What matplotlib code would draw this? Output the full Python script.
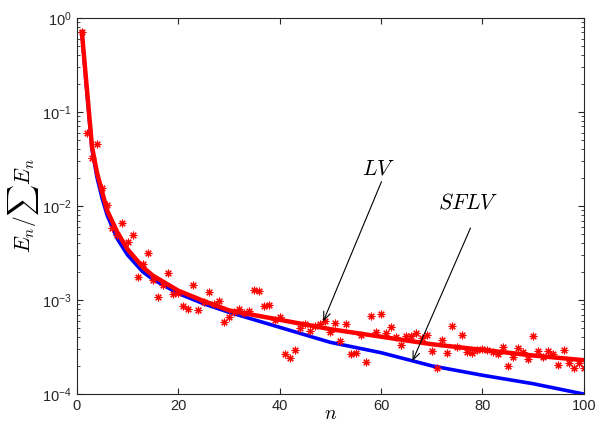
import matplotlib
matplotlib.use('Agg')
import matplotlib.pyplot as plt
import numpy as np

plt.rcParams['font.family'] = 'Liberation Sans'
plt.rcParams['mathtext.fontset'] = 'cm'

# line values, read at selected n (log10 of normalized energy)
line_n = [1, 2, 3, 4, 5, 6, 8, 10, 13, 15, 20, 25, 30, 40, 50, 60, 70, 80, 90, 100]
lv_log = [-0.15, -0.76, -1.37, -1.65, -1.85, -2.05, -2.28, -2.46, -2.65, -2.74,
          -2.90, -3.01, -3.11, -3.21, -3.31, -3.39, -3.47, -3.53, -3.59, -3.64]
sflv_log = [-0.15, -0.80, -1.40, -1.70, -1.92, -2.10, -2.35, -2.52, -2.70, -2.78,
            -2.93, -3.04, -3.13, -3.29, -3.45, -3.56, -3.70, -3.80, -3.89, -4.00]

# scatter points, one per n (log10)
pts_log = [-0.15, -1.22, -1.49, -1.34, -1.81, -1.99, -2.23, -2.31, -2.18, -2.38,
           -2.31, -2.75, -2.62, -2.50, -2.79, -2.97, -2.84, -2.71, -2.94, -2.93,
           -3.06, -3.10, -2.84, -3.11, -3.02, -2.91, -3.04, -3.01, -3.23, -3.18,
           -3.13, -3.10, -3.14, -3.12, -2.89, -2.90, -3.06, -3.05, -3.21, -3.18,
           -3.57, -3.62, -3.53, -3.30, -3.26, -3.33, -3.28, -3.26, -3.22, -3.34,
           -3.24, -3.44, -3.26, -3.57, -3.56, -3.37, -3.66, -3.17, -3.34, -3.15,
           -3.35, -3.29, -3.39, -3.48, -3.38, -3.38, -3.35, -3.40, -3.37, -3.54,
           -3.72, -3.43, -3.56, -3.28, -3.50, -3.37, -3.55, -3.56, -3.53, -3.52,
           -3.53, -3.55, -3.57, -3.50, -3.70, -3.61, -3.51, -3.55, -3.63, -3.38,
           -3.54, -3.61, -3.54, -3.57, -3.69, -3.53, -3.67, -3.72, -3.67, -3.72]
pts_n = np.arange(1, len(pts_log) + 1)

fig = plt.figure(figsize=(6.0, 4.26), dpi=100)
ax = fig.add_axes([0.128, 0.075, 0.845, 0.883])

ax.plot(line_n, 10 ** np.array(sflv_log), color='#0000ff', lw=2.6)
ax.plot(line_n, 10 ** np.array(lv_log), color='#ff0000', lw=3.2)
ax.plot(pts_n, 10 ** np.array(pts_log), linestyle='none', marker=(8, 2, 0),
        color='#ff0000', markersize=5.5, markeredgewidth=0.8)

ax.set_yscale('log')
ax.set_xlim(0, 100)
ax.set_ylim(1e-4, 1)
ax.set_xticks([0, 20, 40, 60, 80, 100])
ax.tick_params(which='both', direction='in', top=True, right=True,
               labelsize=10.5, colors='#262626')
ax.tick_params(which='major', length=4)
ax.tick_params(which='minor', length=2.5)
for s in ax.spines.values():
    s.set_color('#262626')
    s.set_linewidth(0.8)

ax.set_xlabel('$n$', fontsize=14, labelpad=-5)
ax.set_ylabel(r'$E_n/\sum E_n$', fontsize=15.5, labelpad=1)

arrow = dict(arrowstyle='->,head_length=0.6,head_width=0.25', color='black',
             lw=0.8, shrinkA=0, shrinkB=0)
ax.annotate('', xy=(48.6, 5.9e-4), xytext=(60.1, 0.01815), arrowprops=arrow)
ax.annotate('', xy=(66.2, 2.24e-4), xytext=(77.65, 5.83e-3), arrowprops=arrow)
ax.text(59.6, 0.0248, '$LV$', fontsize=15.5, ha='center', va='center')
ax.text(77.2, 0.01076, '$SFLV$', fontsize=15.5, ha='center', va='center')

fig.savefig('out.png', dpi=100)
